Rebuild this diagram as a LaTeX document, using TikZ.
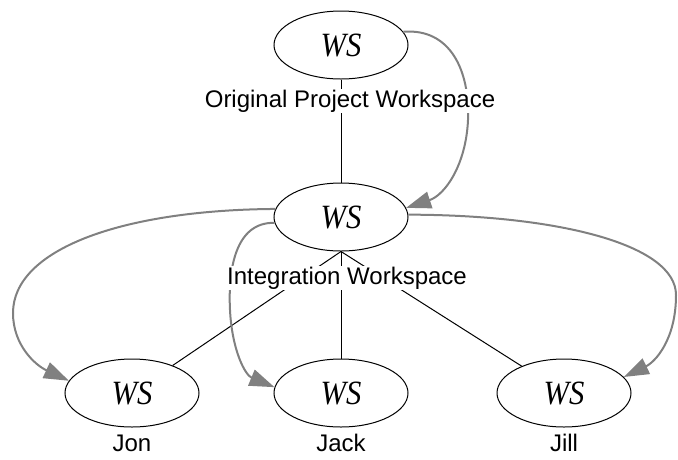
\documentclass[tikz,border=0pt]{standalone}
\usepackage{fontspec}
\setmainfont{Liberation Sans}
\newfontfamily\wsfont{Liberation Serif}
\usetikzlibrary{arrows.meta,shapes.geometric}
\definecolor{flowgray}{HTML}{808080}
\newcommand{\wslabel}{\scalebox{0.9}[1]{WS}}
\tikzset{
  ws/.style={ellipse, draw=black, line width=1pt, minimum width=134pt, minimum height=68pt,
    inner sep=0pt, font=\wsfont\itshape\fontsize{34}{34}\selectfont},
  caption/.style={fill=white, inner sep=1pt, font=\fontsize{24}{24}\selectfont},
  link/.style={draw=black, line width=1pt},
  flow/.style={draw=flowgray, line width=2pt, -{Triangle[length=25pt,width=17pt]}},
}
\begin{document}
\begin{tikzpicture}[x=1pt, y=-1pt]
\useasboundingbox (0,0) rectangle (678,459);

% workspaces
\node[ws] (orig) at (341,45) {\wslabel};
\node[ws] (integ) at (341,217) {\wslabel};
\node[ws] (jon) at (132,393) {\wslabel};
\node[ws] (jack) at (341,393) {\wslabel};
\node[ws] (jill) at (564,393) {\wslabel};

% hierarchy links
\draw[link] (orig.south) -- (integ.north);
\draw[link] (integ.south) -- (jon);
\draw[link] (integ.south) -- (jack.north);
\draw[link] (integ.south) -- (jill);

% propagation arrows
\draw[flow] (orig.12) .. controls (450,28) and (470,70) .. (468,120)
  .. controls (466,165) and (445,195) .. (integ.8);
\draw[flow] (integ.173) .. controls (120,210) and (13,250) .. (13,313)
  .. controls (13,345) and (35,365) .. (jon.169);
\draw[flow] (integ.185) .. controls (235,222) and (228,270) .. (230,310)
  .. controls (232,350) and (245,375) .. (jack.175);
\draw[flow] (integ.2) .. controls (560,215) and (676,245) .. (676,295)
  .. controls (676,340) and (655,362) .. (jill.15);

% captions
\node[caption] (origcap) at (350,101) {Original Project Workspace};
\node[caption] (integcap) at (347,278) {Integration Workspace};
\node[caption] (joncap) at (132,443) {Jon};
\node[caption] (jackcap) at (341,443) {Jack};
\node[caption] (jillcap) at (564,443) {Jill};
\end{tikzpicture}
\end{document}
